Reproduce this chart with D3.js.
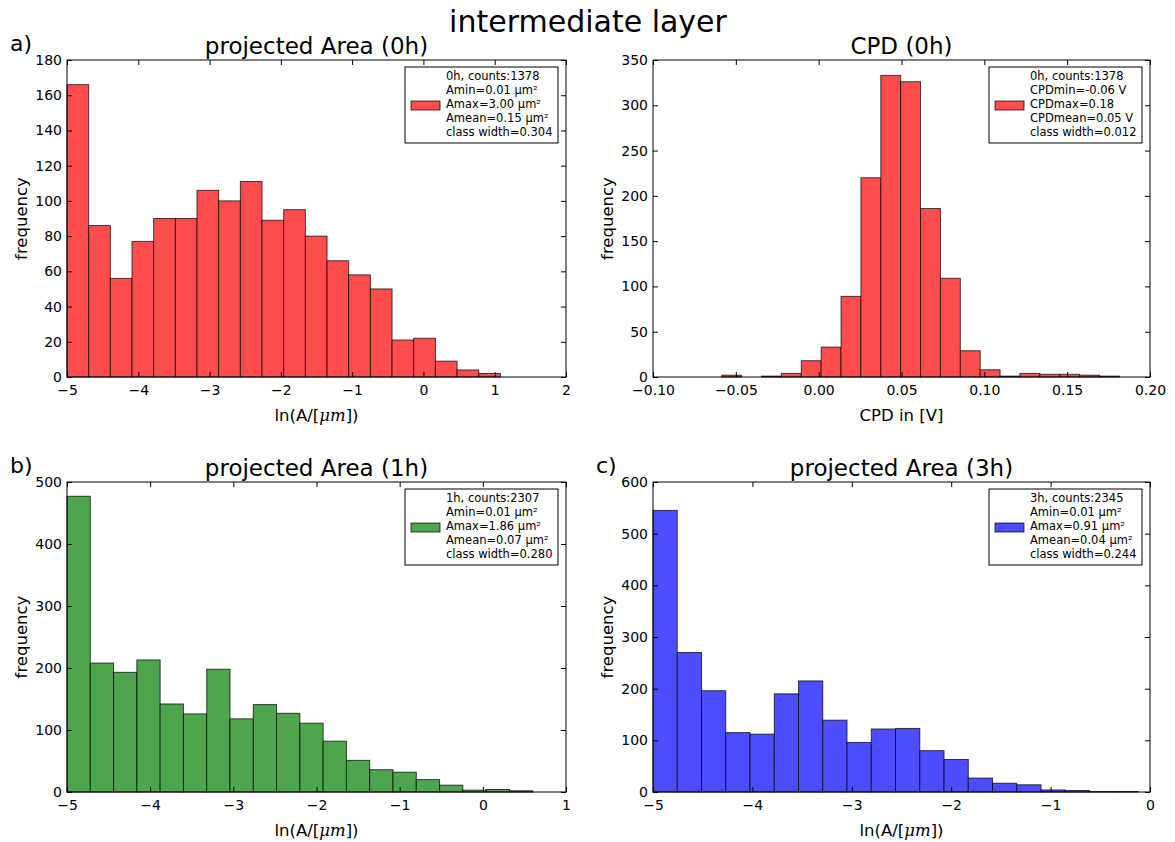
<!DOCTYPE html>
<html>
<head>
<meta charset="utf-8">
<script src="https://cdn.jsdelivr.net/npm/d3@7"></script>
<style>
  body { margin: 0; background: #fff; }
  text { font-family: "DejaVu Sans", sans-serif; fill: #000; }
</style>
</head>
<body>
<div id="chart"></div>
<script>
// histogram counts, 20 classes each
var area0hCounts = [166, 86, 56, 77, 90, 90, 106, 100, 111, 89, 95, 80, 66, 58, 50, 21, 22, 9, 4, 2]
var cpd0hCounts = [2, 0, 1, 4, 18, 33, 89, 220, 333, 326, 186, 109, 29, 8, 1, 4, 3, 3, 2, 1]
var area1hCounts = [477, 208, 193, 213, 142, 126, 198, 118, 141, 127, 111, 82, 51, 36, 32, 20, 11, 3, 4, 2]
var area3hCounts = [545, 270, 196, 115, 112, 190, 215, 139, 96, 122, 123, 80, 63, 27, 17, 14, 4, 3, 1, 1]

var binStarts = [-5, -0.0585, -5, -5]
var binWidths = [0.304, 0.012, 0.280, 0.244]

var panelTitles = ["projected Area (0h)", "CPD (0h)", "projected Area (1h)", "projected Area (3h)"]
var panelLetters = ["a)", "", "b)", "c)"]
var xDomains = [[-5, 2], [-0.10, 0.20], [-5, 1], [-5, 0]]
var xTickSteps = [1, 0.05, 1, 1]
var yMaxes = [180, 350, 500, 600]
var yTickSteps = [20, 50, 100, 100]

var legendLines = [
    ["0h, counts:1378", "Amin=0.01 µm²", "Amax=3.00 µm²", "Amean=0.15 µm²", "class width=0.304"],
    ["0h, counts:1378", "CPDmin=-0.06 V", "CPDmax=0.18", "CPDmean=0.05 V", "class width=0.012"],
    ["1h, counts:2307", "Amin=0.01 µm²", "Amax=1.86 µm²", "Amean=0.07 µm²", "class width=0.280"],
    ["3h, counts:2345", "Amin=0.01 µm²", "Amax=0.91 µm²", "Amean=0.04 µm²", "class width=0.244"]
]
var barColors = ["#ff4d4d", "#ff4d4d", "#4da64d", "#4d4dff"]
var allCounts = [area0hCounts, cpd0hCounts, area1hCounts, area3hCounts]

width = 1175
height = 842

var svg = d3.select("#chart").append("svg")
    .attr("width", width).attr("height", height)

svg.append("text")
    .attr("x", 588).attr("y", 32)
    .attr("text-anchor", "middle")
    .style("font-size", "30px")
    .text("intermediate layer")

// frame boxes of the four axes
var frames = [
    { left: 67, right: 566, top: 60, bottom: 377 },
    { left: 653, right: 1150, top: 60, bottom: 377 },
    { left: 67, right: 566, top: 482, bottom: 792 },
    { left: 653, right: 1150, top: 482, bottom: 792 }
]

for (var i = 0; i < 4; i++) {
    drawHist(i)
}

function drawHist(i) {
    var f = frames[i]
    var g = svg.append("g")
    var x = d3.scaleLinear().domain(xDomains[i]).range([f.left, f.right])
    var y = d3.scaleLinear().domain([0, yMaxes[i]]).range([f.bottom, f.top])

    var bins = allCounts[i].map(function (c, k) {
        return { x0: binStarts[i] + k * binWidths[i], x1: binStarts[i] + (k + 1) * binWidths[i], count: c }
    })

    g.selectAll("rect.bar")
        .data(bins)
        .enter()
        .append("rect")
        .attr("class", "bar")
        .attr("x", function (d) { return x(d.x0) })
        .attr("width", function (d) { return x(d.x1) - x(d.x0) })
        .attr("y", function (d) { return y(d.count) })
        .attr("height", function (d) { return y(0) - y(d.count) })
        .attr("fill", barColors[i])
        .attr("stroke", "black")
        .attr("stroke-opacity", 0.7)
        .attr("stroke-width", 1)

    var xd = xDomains[i]
    var n = Math.round((xd[1] - xd[0]) / xTickSteps[i])
    var xTicks = d3.range(n + 1).map(function (k) { return xd[0] + k * xTickSteps[i] })
    var yTicks = d3.range(0, yMaxes[i] + 0.001, yTickSteps[i])
    var xFmt = i == 1 ? d3.format(".2f") : d3.format("d")

    g.append("g")
        .attr("transform", "translate(0," + f.bottom + ")")
        .call(d3.axisBottom(x).tickValues(xTicks).tickFormat(xFmt).tickSizeInner(-5).tickSizeOuter(0).tickPadding(8))
    g.append("g")
        .attr("transform", "translate(0," + f.top + ")")
        .call(d3.axisTop(x).tickValues(xTicks).tickFormat("").tickSizeInner(-5).tickSizeOuter(0))
    g.append("g")
        .attr("transform", "translate(" + f.left + ",0)")
        .call(d3.axisLeft(y).tickValues(yTicks).tickFormat(d3.format("d")).tickSizeInner(-5).tickSizeOuter(0).tickPadding(5))
    g.append("g")
        .attr("transform", "translate(" + f.right + ",0)")
        .call(d3.axisRight(y).tickValues(yTicks).tickFormat("").tickSizeInner(-5).tickSizeOuter(0))

    g.selectAll(".domain").remove()
    g.selectAll(".tick line").attr("stroke", "black")
    g.selectAll(".tick text").style("font-size", "14px").style("font-family", "DejaVu Sans")

    g.append("rect")
        .attr("x", f.left).attr("y", f.top)
        .attr("width", f.right - f.left).attr("height", f.bottom - f.top)
        .attr("fill", "none").attr("stroke", "black").attr("stroke-width", 1)

    var cx = (f.left + f.right) / 2
    g.append("text")
        .attr("x", cx).attr("y", f.top - 6)
        .attr("text-anchor", "middle")
        .style("font-size", "23px")
        .text(panelTitles[i])

    if (panelLetters[i] != "") {
        g.append("text")
            .attr("x", f.left - 57).attr("y", f.top - 9)
            .style("font-size", "22px")
            .text(panelLetters[i])
    }

    // x label
    var xl = g.append("text")
        .attr("x", cx).attr("y", f.bottom + 44)
        .attr("text-anchor", "middle")
        .style("font-size", "16.5px")
    if (i == 1) {
        xl.text("CPD in [V]")
    } else {
        xl.append("tspan").text("ln(A/[")
        xl.append("tspan").style("font-family", "DejaVu Serif").style("font-style", "italic").text("μm")
        xl.append("tspan").text("])")
    }

    g.append("text")
        .attr("transform", "translate(" + (f.left - 40) + "," + ((f.top + f.bottom) / 2) + ") rotate(-90)")
        .attr("text-anchor", "middle")
        .style("font-size", "16.5px")
        .text("frequency")

    // legend
    var lx = f.right - 161, ly = f.top + 7
    var leg = g.append("g")
    leg.append("rect")
        .attr("x", lx).attr("y", ly).attr("width", 153).attr("height", 76)
        .attr("fill", "white").attr("stroke", "black").attr("stroke-width", 1)
    leg.append("rect")
        .attr("x", lx + 6).attr("y", ly + 34).attr("width", 29).attr("height", 9)
        .attr("fill", barColors[i]).attr("stroke", "black").attr("stroke-opacity", 0.7)
    leg.selectAll("text.leg")
        .data(legendLines[i])
        .enter()
        .append("text")
        .attr("class", "leg")
        .attr("x", lx + 41)
        .attr("y", function (d, k) { return ly + 13 + k * 14 })
        .style("font-size", "11.5px")
        .text(function (d) { return d })
}
</script>
</body>
</html>
